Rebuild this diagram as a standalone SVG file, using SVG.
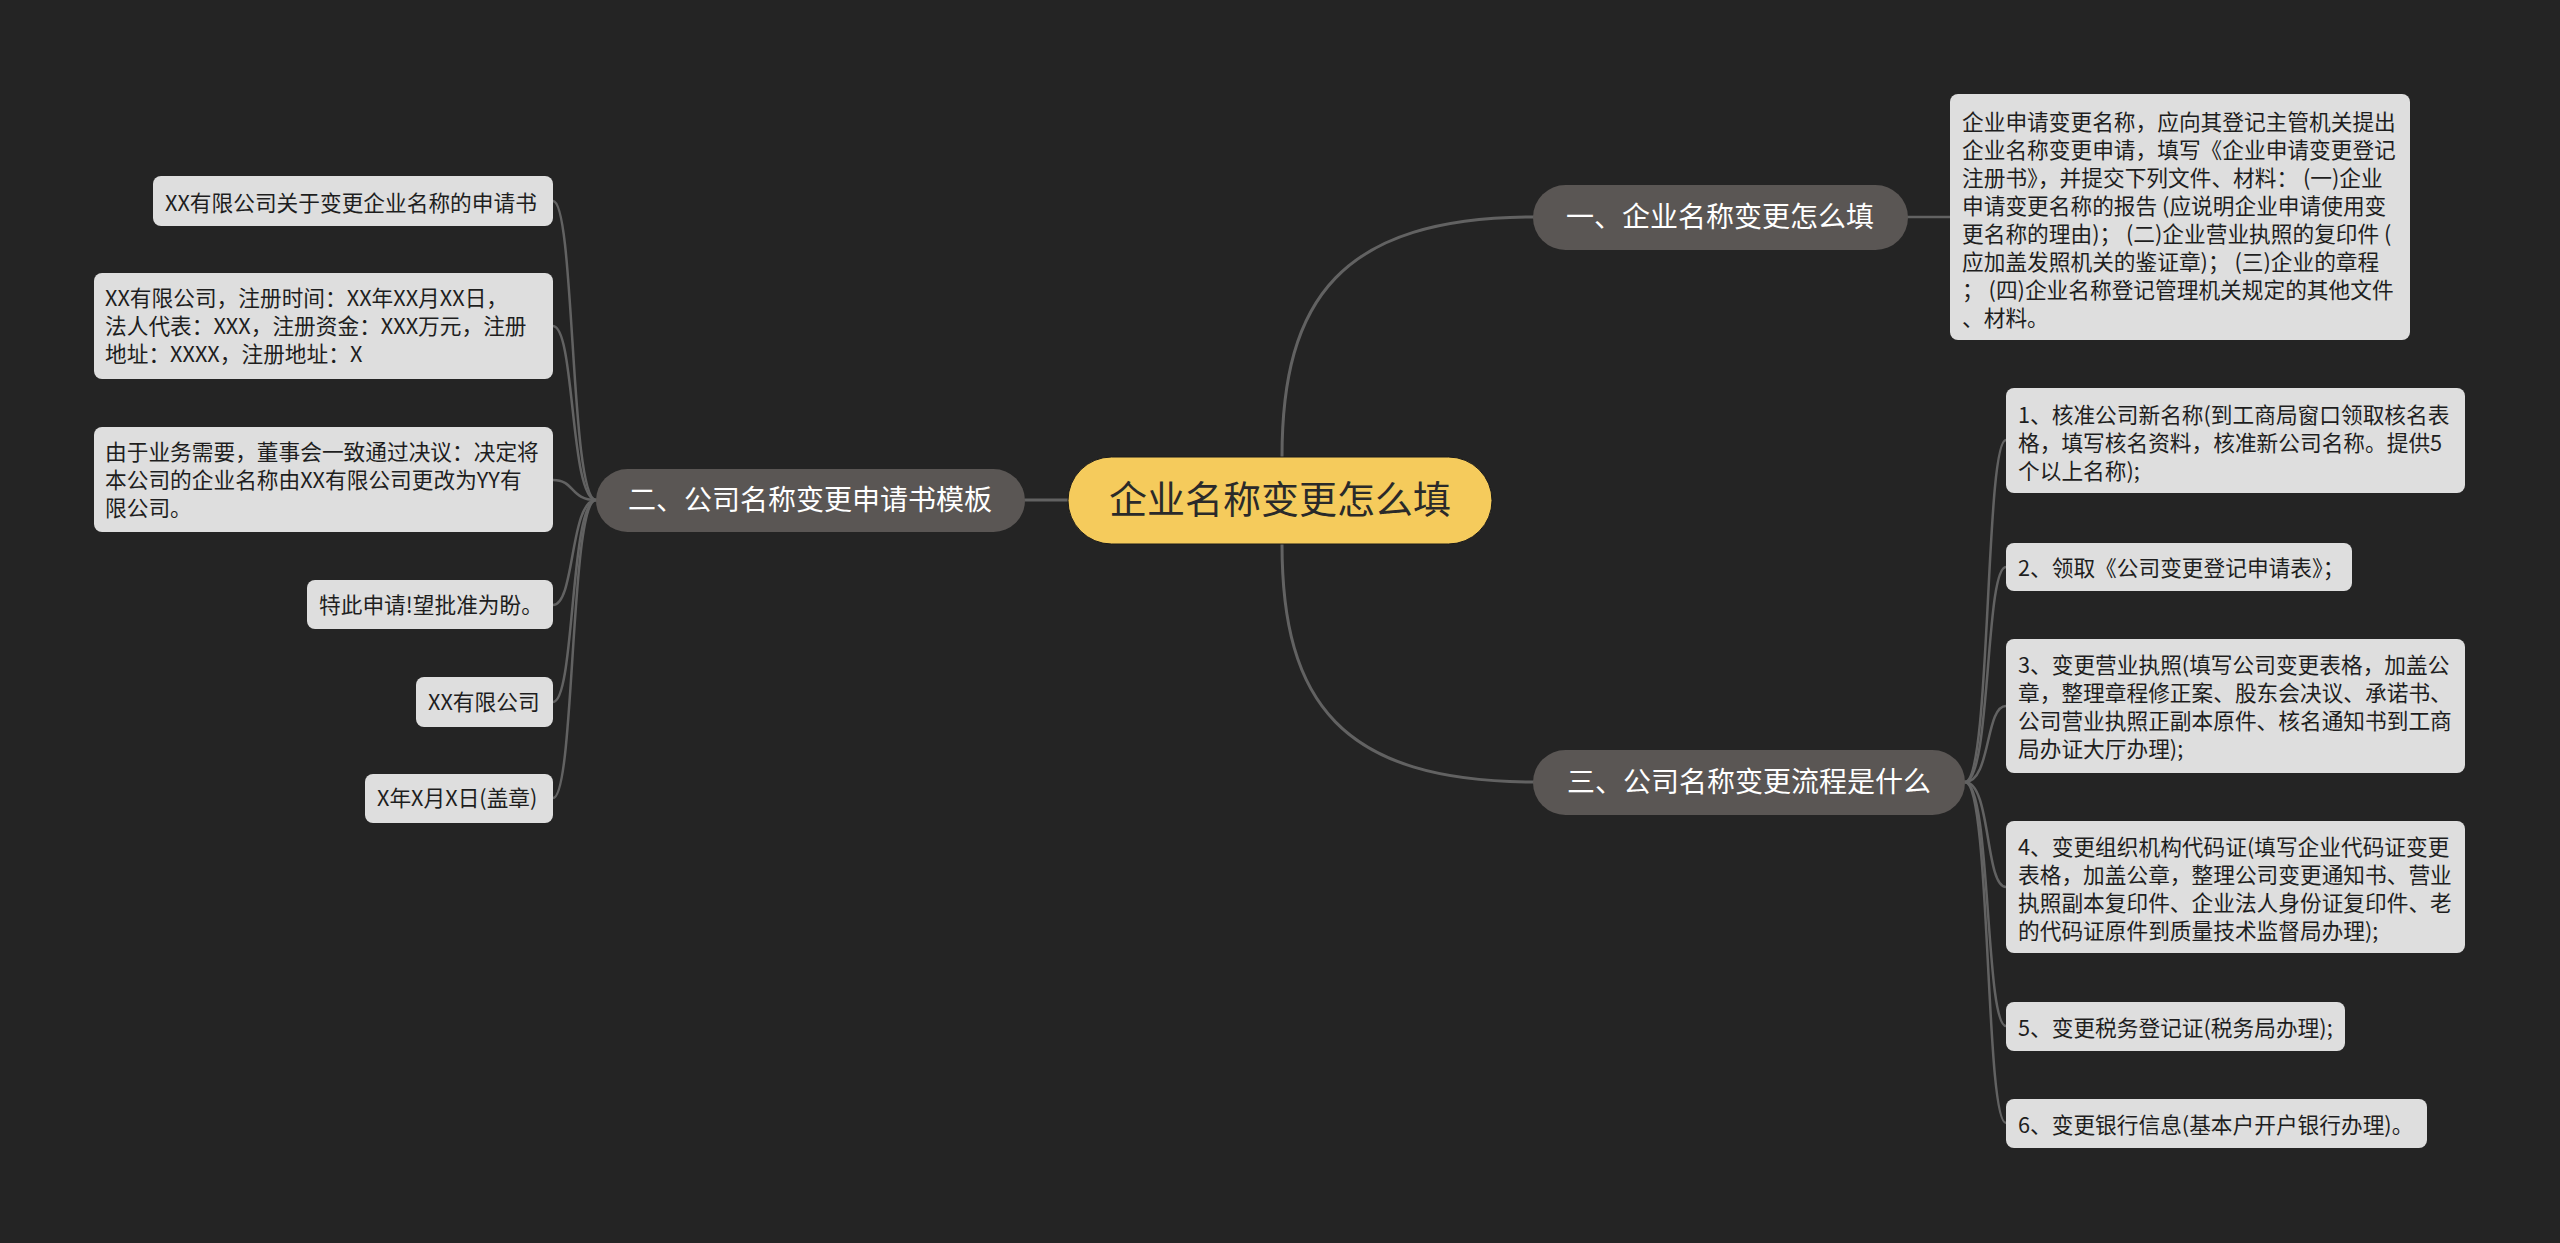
<svg xmlns="http://www.w3.org/2000/svg" width="2560" height="1243" viewBox="0 0 2560 1243">
<style>
.bg{fill:#242424}
.root rect{fill:#F5CB5C;stroke:#1a1a1a;stroke-width:1}
.root text{fill:#2a2a2a;font-size:38px;text-anchor:middle}
.branch rect{fill:#5A5654}
.branch text{fill:#ffffff;font-size:28px;text-anchor:middle}
.leaf rect{fill:#DEDEDE}
.leaf text{fill:#1e1e1e;font-size:21.7px}
text{font-family:"Noto Sans CJK SC","Noto Sans",sans-serif}
.links path{fill:none;stroke:#626262;stroke-width:2.5;stroke-linecap:round}
.links path.main{stroke-width:3}
</style>
<rect class="bg" x="0" y="0" width="2560" height="1243"/>
<g class="links">
<path class="main" d="M1282,457 C1282,300 1340,217 1535,217"/>
<path class="main" d="M1282,544 C1282,701 1340,782 1535,782"/>
<path class="main" d="M1068,500 L1025,500"/>
<path d="M1907,217 L1950,217"/>
<path d="M1965,782 C1991,782 1985,440 2006,440"/>
<path d="M1965,782 C1991,782 1985,567 2006,567"/>
<path d="M1965,782 C1991,782 1985,706 2006,706"/>
<path d="M1965,782 C1991,782 1985,887 2006,887"/>
<path d="M1965,782 C1991,782 1985,1026 2006,1026"/>
<path d="M1965,782 C1991,782 1985,1123 2006,1123"/>
<path d="M596,500 C570,500 575,201 553,201"/>
<path d="M596,500 C570,500 575,326 553,326"/>
<path d="M596,500 C570,500 575,480 553,480"/>
<path d="M596,500 C570,500 575,605 553,605"/>
<path d="M596,500 C570,500 575,702 553,702"/>
<path d="M596,500 C570,500 575,798 553,798"/>
</g>
<g id="root" class="root">
<rect x="1068" y="457" width="424" height="87" rx="43.5"/>
<text x="1280" y="513">企业名称变更怎么填</text>
</g>
<g id="b1" class="branch">
<rect x="1533" y="185" width="375" height="65" rx="32.5"/>
<text x="1720" y="227">一、企业名称变更怎么填</text>
</g>
<g id="b2" class="branch">
<rect x="596" y="469" width="429" height="63" rx="31.5"/>
<text x="810" y="510">二、公司名称变更申请书模板</text>
</g>
<g id="b3" class="branch">
<rect x="1533" y="750" width="432" height="65" rx="32.5"/>
<text x="1749" y="792">三、公司名称变更流程是什么</text>
</g>
<g id="r0" class="leaf">
<rect x="1950" y="94" width="460" height="246" rx="8"/>
<text x="1962" y="130">企业申请变更名称，应向其登记主管机关提出</text>
<text x="1962" y="158">企业名称变更申请，填写《企业申请变更登记</text>
<text x="1962" y="186">注册书》，并提交下列文件、材料： (一)企业</text>
<text x="1962" y="214">申请变更名称的报告 (应说明企业申请使用变</text>
<text x="1962" y="242">更名称的理由)； (二)企业营业执照的复印件 (</text>
<text x="1962" y="270">应加盖发照机关的鉴证章)； (三)企业的章程</text>
<text x="1962" y="298">； (四)企业名称登记管理机关规定的其他文件</text>
<text x="1962" y="326">、材料。</text>
</g>
<g id="s1" class="leaf">
<rect x="2006" y="388" width="459" height="105" rx="8"/>
<text x="2018" y="423">1、核准公司新名称(到工商局窗口领取核名表</text>
<text x="2018" y="451">格，填写核名资料，核准新公司名称。提供5</text>
<text x="2018" y="479">个以上名称);</text>
</g>
<g id="s2" class="leaf">
<rect x="2006" y="543" width="346" height="48" rx="8"/>
<text x="2018" y="576">2、领取《公司变更登记申请表》；</text>
</g>
<g id="s3" class="leaf">
<rect x="2006" y="639" width="459" height="134" rx="8"/>
<text x="2018" y="673">3、变更营业执照(填写公司变更表格，加盖公</text>
<text x="2018" y="701">章，整理章程修正案、股东会决议、承诺书、</text>
<text x="2018" y="729">公司营业执照正副本原件、核名通知书到工商</text>
<text x="2018" y="757">局办证大厅办理);</text>
</g>
<g id="s4" class="leaf">
<rect x="2006" y="821" width="459" height="132" rx="8"/>
<text x="2018" y="855">4、变更组织机构代码证(填写企业代码证变更</text>
<text x="2018" y="883">表格，加盖公章，整理公司变更通知书、营业</text>
<text x="2018" y="911">执照副本复印件、企业法人身份证复印件、老</text>
<text x="2018" y="939">的代码证原件到质量技术监督局办理);</text>
</g>
<g id="s5" class="leaf">
<rect x="2006" y="1002" width="339" height="49" rx="8"/>
<text x="2018" y="1036">5、变更税务登记证(税务局办理);</text>
</g>
<g id="s6" class="leaf">
<rect x="2006" y="1099" width="421" height="49" rx="8"/>
<text x="2018" y="1133">6、变更银行信息(基本户开户银行办理)。</text>
</g>
<g id="l1" class="leaf">
<rect x="153" y="176" width="400" height="50" rx="8"/>
<text x="165" y="211">XX有限公司关于变更企业名称的申请书</text>
</g>
<g id="l2" class="leaf">
<rect x="94" y="273" width="459" height="106" rx="8"/>
<text x="105" y="306">XX有限公司，注册时间：XX年XX月XX日，</text>
<text x="105" y="334">法人代表：XXX，注册资金：XXX万元，注册</text>
<text x="105" y="362">地址：XXXX，注册地址：X</text>
</g>
<g id="l3" class="leaf">
<rect x="94" y="427" width="459" height="105" rx="8"/>
<text x="105" y="460">由于业务需要，董事会一致通过决议：决定将</text>
<text x="105" y="488">本公司的企业名称由XX有限公司更改为YY有</text>
<text x="105" y="516">限公司。</text>
</g>
<g id="l4" class="leaf">
<rect x="307" y="580" width="246" height="49" rx="8"/>
<text x="319" y="613">特此申请!望批准为盼。</text>
</g>
<g id="l5" class="leaf">
<rect x="416" y="677" width="137" height="50" rx="8"/>
<text x="428" y="710">XX有限公司</text>
</g>
<g id="l6" class="leaf">
<rect x="365" y="774" width="188" height="49" rx="8"/>
<text x="377" y="806">X年X月X日(盖章)</text>
</g>
</svg>
